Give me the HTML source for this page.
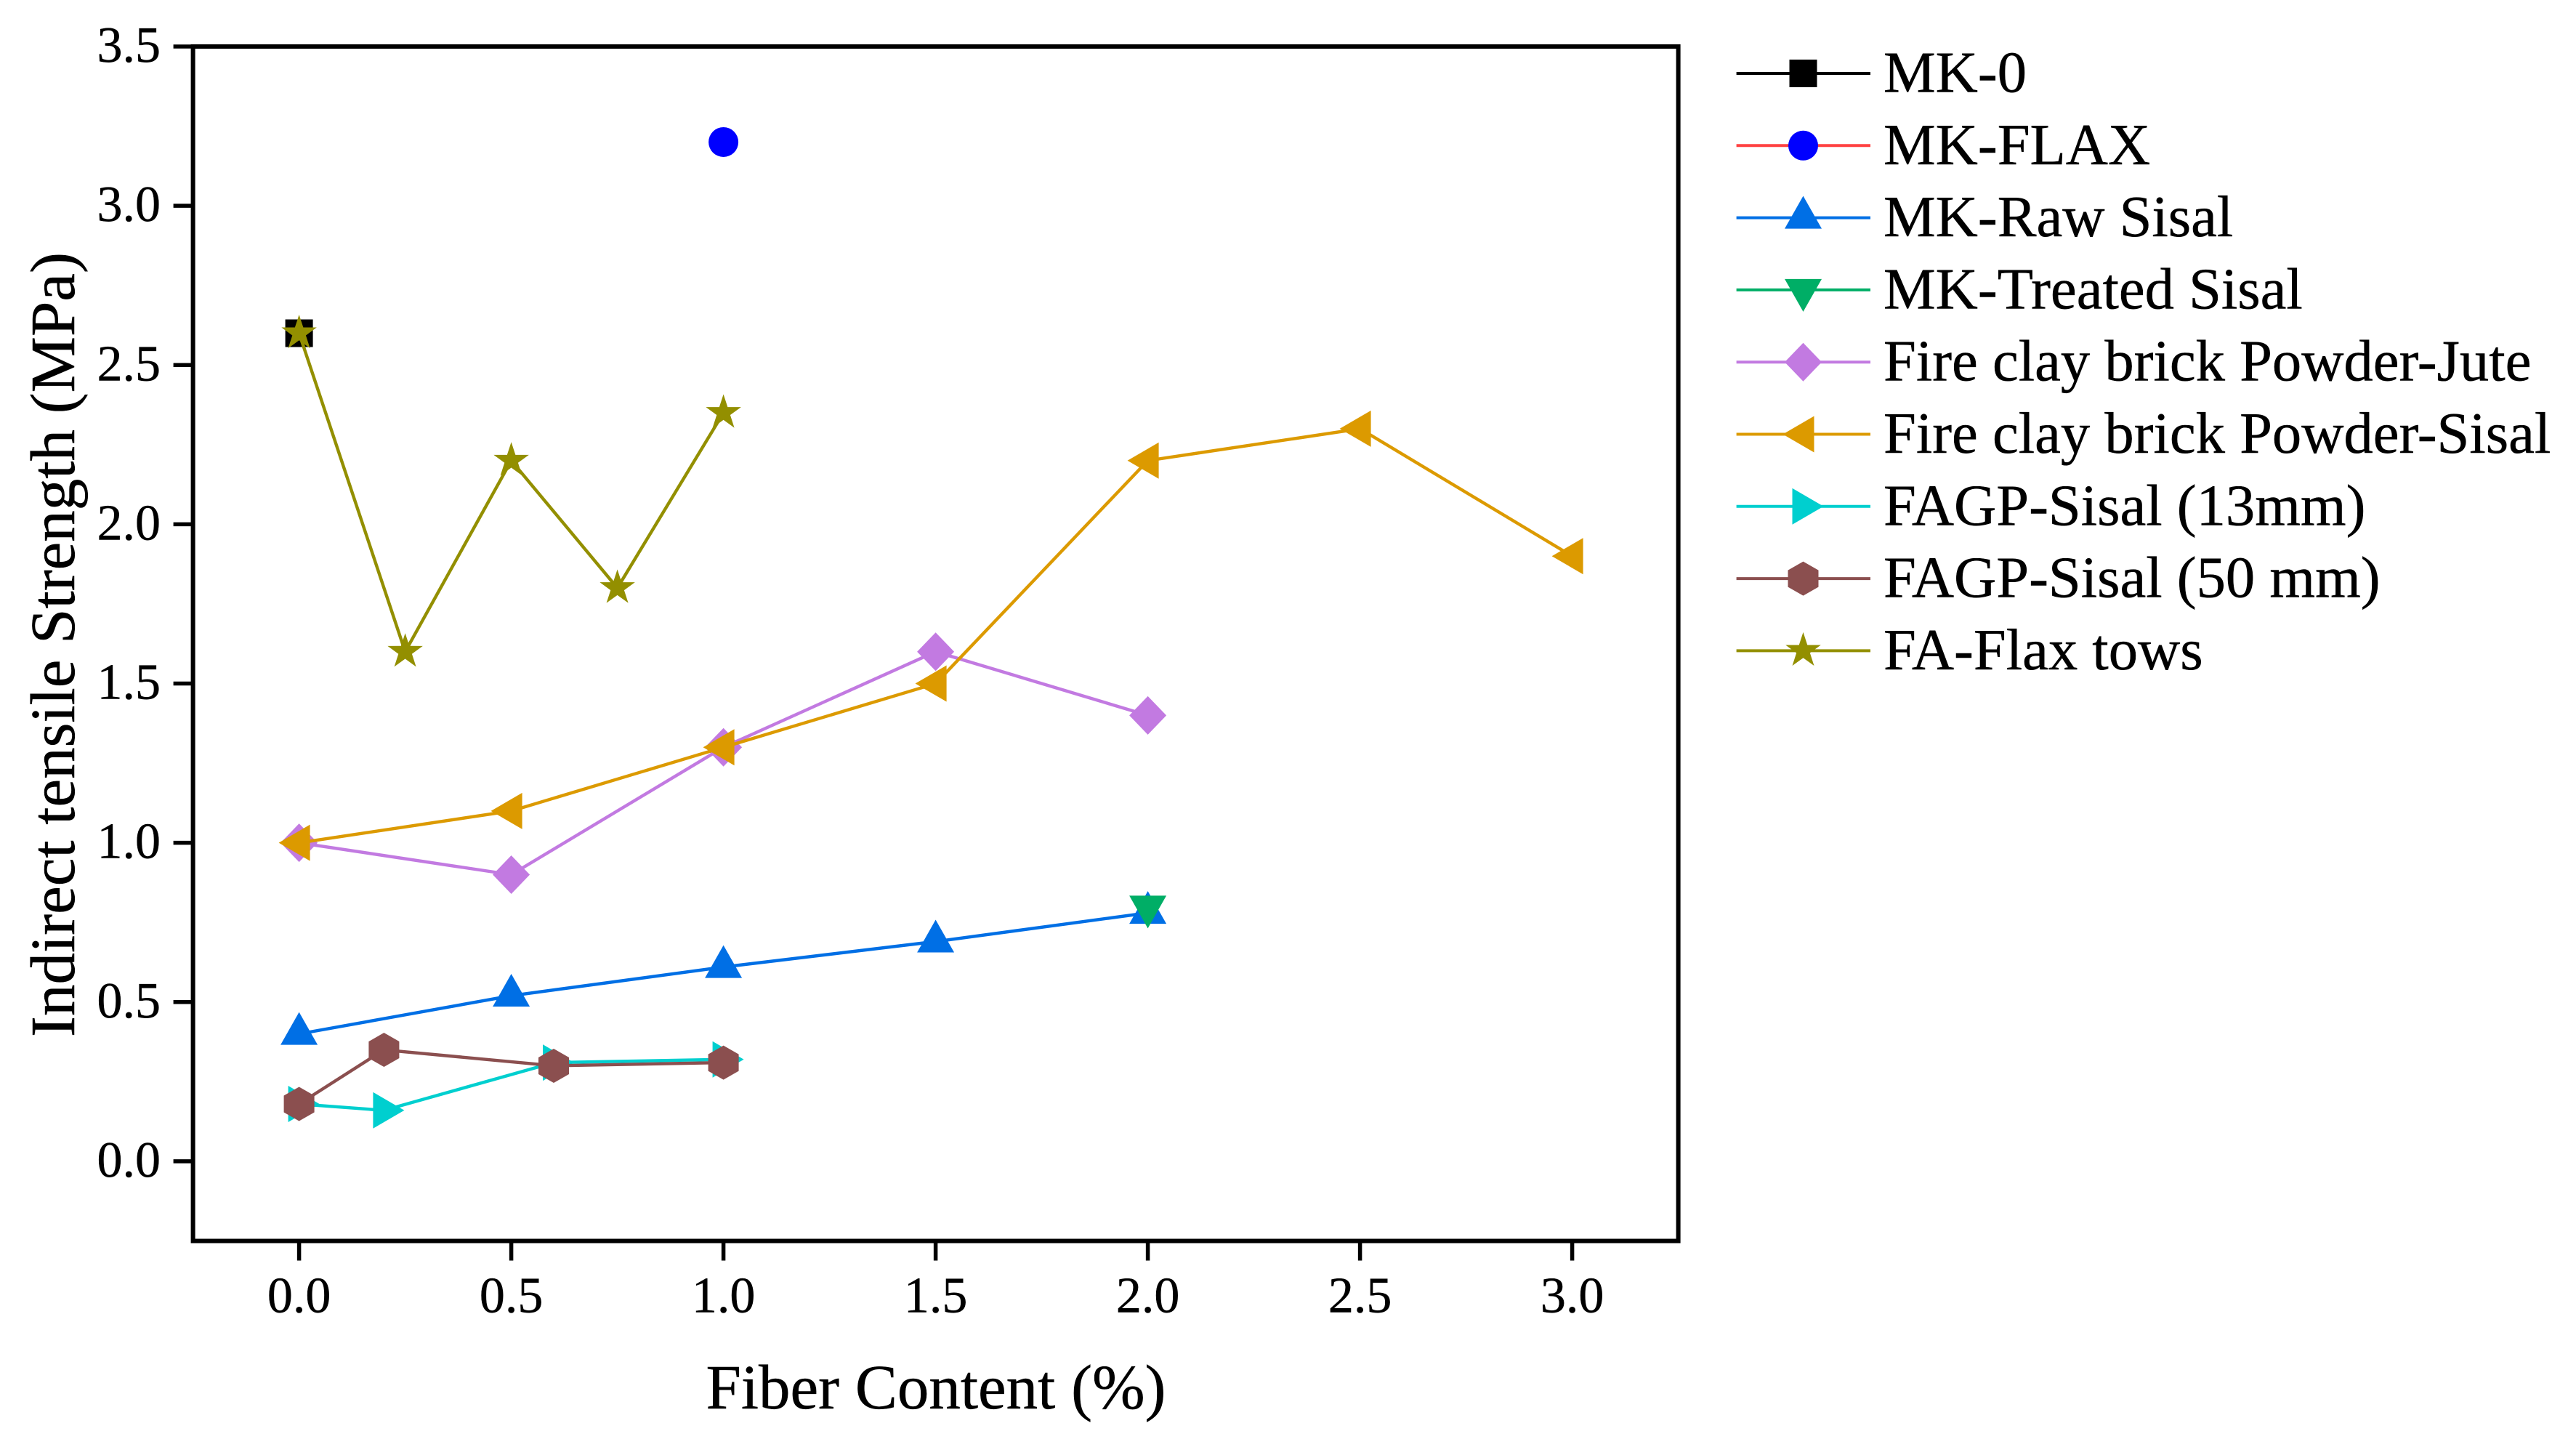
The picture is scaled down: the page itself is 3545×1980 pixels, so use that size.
<!DOCTYPE html>
<html lang="en">
<head>
<meta charset="utf-8">
<title>Indirect tensile strength vs fiber content</title>
<style>
  html, body { margin: 0; padding: 0; background: #ffffff; }
  svg { display: block; }
  text { font-family: "Liberation Serif", "Times New Roman", serif; fill: #000000; stroke: #000000; stroke-width: 0.5px; text-rendering: geometricPrecision; }
  .tick-label { font-size: 70px; }
  .axis-title { font-size: 87px; }
  .legend-label { font-size: 80.6px; }
</style>
</head>
<body>
<svg id="chart" xmlns="http://www.w3.org/2000/svg" width="3545" height="1980" viewBox="0 0 3545 1980">
  <rect x="0" y="0" width="3545" height="1980" fill="#ffffff"/>
  <g id="ticks"></g>
  <g id="series"></g>
  <rect id="frame" fill="none" stroke="#000000" stroke-width="6"/>
  <text class="axis-title" x="1288" y="1938" text-anchor="middle">Fiber Content (%)</text>
  <text class="axis-title" x="102" y="887" text-anchor="middle" transform="rotate(-90 102 887)">Indirect tensile Strength (MPa)</text>
  <g id="legend">
    <text class="legend-label" x="2592" y="126.5">MK-0</text>
    <text class="legend-label" x="2592" y="225.8">MK-FLAX</text>
    <text class="legend-label" x="2592" y="325.1">MK-Raw Sisal</text>
    <text class="legend-label" x="2592" y="424.4">MK-Treated Sisal</text>
    <text class="legend-label" x="2592" y="523.7">Fire clay brick Powder-Jute</text>
    <text class="legend-label" x="2592" y="623">Fire clay brick Powder-Sisal</text>
    <text class="legend-label" x="2592" y="722.3">FAGP-Sisal (13mm)</text>
    <text class="legend-label" x="2592" y="821.6">FAGP-Sisal (50 mm)</text>
    <text class="legend-label" x="2592" y="920.9">FA-Flax tows</text>
  </g>
</svg>
<script>
// Chart data
const xTickValues = [0, 0.5, 1, 1.5, 2, 2.5, 3];
const xTickLabels = ["0.0", "0.5", "1.0", "1.5", "2.0", "2.5", "3.0"];
const yTickValues = [0, 0.5, 1, 1.5, 2, 2.5, 3, 3.5];
const yTickLabels = ["0.0", "0.5", "1.0", "1.5", "2.0", "2.5", "3.0", "3.5"];

const mk0X = [0];
const mk0Y = [2.6];
const mkFlaxX = [1];
const mkFlaxY = [3.2];
const mkRawSisalX = [0, 0.5, 1, 1.5, 2];
const mkRawSisalY = [0.4, 0.52, 0.61, 0.69, 0.78];
const mkTreatedSisalX = [2];
const mkTreatedSisalY = [0.8];
const fireClayJuteX = [0, 0.5, 1, 1.5, 2];
const fireClayJuteY = [1, 0.9, 1.3, 1.6, 1.4];
const fireClaySisalX = [0, 0.5, 1, 1.5, 2, 2.5, 3];
const fireClaySisalY = [1, 1.1, 1.3, 1.5, 2.2, 2.3, 1.9];
const fagp13X = [0, 0.2, 0.6, 1];
const fagp13Y = [0.18, 0.16, 0.31, 0.32];
const fagp50X = [0, 0.2, 0.6, 1];
const fagp50Y = [0.18, 0.35, 0.3, 0.31];
const faFlaxX = [0, 0.25, 0.5, 0.75, 1];
const faFlaxY = [2.6, 1.6, 2.2, 1.8, 2.35];

const NS = "http://www.w3.org/2000/svg";

// Axis functions
const xDomain = [-0.25, 3.25];
const yDomain = [-0.25, 3.5];
const plotLeft = 265.6, plotRight = 2309.6, plotTop = 64, plotBottom = 1707.5;
function xScale(v) { return plotLeft + (v - xDomain[0]) / (xDomain[1] - xDomain[0]) * (plotRight - plotLeft); }
function yScale(v) { return plotBottom - (v - yDomain[0]) / (yDomain[1] - yDomain[0]) * (plotBottom - plotTop); }

function markerPoints(shape) {
  if (shape === "square") return [[-19, -19], [19, -19], [19, 19], [-19, 19]];
  if (shape === "triangle-up") return [[0, -30], [25.5, 15], [-25.5, 15]];
  if (shape === "triangle-down") return [[0, 30], [25.5, -15], [-25.5, -15]];
  if (shape === "triangle-left") return [[-28, 0], [15, -25], [15, 25]];
  if (shape === "triangle-right") return [[28, 0], [-15, -25], [-15, 25]];
  if (shape === "diamond") return [[0, -26.5], [25.5, 0], [0, 26.5], [-25.5, 0]];
  if (shape === "hexagon") return [[0, -23.5], [21, -11.5], [21, 11.5], [0, 23.5], [-21, 11.5], [-21, -11.5]];
  if (shape === "star") {
    const pts = [];
    for (let i = 0; i < 10; i++) {
      const r = i % 2 === 0 ? 25.5 : 9.8;
      const a = -Math.PI / 2 + i * Math.PI / 5;
      pts.push([r * Math.cos(a), r * Math.sin(a)]);
    }
    return pts;
  }
  return [];
}

function drawMarker(parent, shape, color, cx, cy, name) {
  let el;
  if (shape === "circle") {
    el = document.createElementNS(NS, "circle");
    el.setAttribute("cx", cx);
    el.setAttribute("cy", cy);
    el.setAttribute("r", 20.5);
  } else {
    el = document.createElementNS(NS, "polygon");
    el.setAttribute("points", markerPoints(shape).map(function (p) { return (cx + p[0]).toFixed(2) + "," + (cy + p[1]).toFixed(2); }).join(" "));
  }
  el.setAttribute("fill", color);
  
  
  parent.appendChild(el);
}

const seriesList = [
  { key: "mk-0", xs: mk0X, ys: mk0Y, line: "#000000", fill: "#000000", shape: "square" },
  { key: "mk-flax", xs: mkFlaxX, ys: mkFlaxY, line: "#ff4040", fill: "#0000ff", shape: "circle" },
  { key: "mk-raw-sisal", xs: mkRawSisalX, ys: mkRawSisalY, line: "#006fe5", fill: "#006fe5", shape: "triangle-up" },
  { key: "mk-treated-sisal", xs: mkTreatedSisalX, ys: mkTreatedSisalY, line: "#00ae66", fill: "#00ae66", shape: "triangle-down" },
  { key: "fire-clay-jute", xs: fireClayJuteX, ys: fireClayJuteY, line: "#c27ae1", fill: "#c27ae1", shape: "diamond" },
  { key: "fire-clay-sisal", xs: fireClaySisalX, ys: fireClaySisalY, line: "#dc9a00", fill: "#dc9a00", shape: "triangle-left" },
  { key: "fagp-sisal-13mm", xs: fagp13X, ys: fagp13Y, line: "#00cfcf", fill: "#00cfcf", shape: "triangle-right" },
  { key: "fagp-sisal-50mm", xs: fagp50X, ys: fagp50Y, line: "#8b4f4f", fill: "#8b4f4f", shape: "hexagon" },
  { key: "fa-flax-tows", xs: faFlaxX, ys: faFlaxY, line: "#938f00", fill: "#938f00", shape: "star" }
];

// Frame
const frame = document.getElementById("frame");
frame.setAttribute("x", plotLeft);
frame.setAttribute("y", plotTop);
frame.setAttribute("width", plotRight - plotLeft);
frame.setAttribute("height", plotBottom - plotTop);

// Ticks
const ticksGroup = document.getElementById("ticks");
xTickValues.forEach(function (v, i) {
  const px = xScale(v);
  const tick = document.createElementNS(NS, "line");
  tick.setAttribute("x1", px);
  tick.setAttribute("x2", px);
  tick.setAttribute("y1", plotBottom);
  tick.setAttribute("y2", plotBottom + 27);
  tick.setAttribute("stroke", "#000000");
  tick.setAttribute("stroke-width", "5.5");
  
  
  ticksGroup.appendChild(tick);
  const label = document.createElementNS(NS, "text");
  label.setAttribute("x", px);
  label.setAttribute("y", plotBottom + 98);
  label.setAttribute("text-anchor", "middle");
  label.setAttribute("class", "tick-label");
  
  
  label.textContent = xTickLabels[i];
  ticksGroup.appendChild(label);
});
yTickValues.forEach(function (v, i) {
  const py = yScale(v);
  const tick = document.createElementNS(NS, "line");
  tick.setAttribute("x1", plotLeft - 27);
  tick.setAttribute("x2", plotLeft);
  tick.setAttribute("y1", py);
  tick.setAttribute("y2", py);
  tick.setAttribute("stroke", "#000000");
  tick.setAttribute("stroke-width", "5.5");
  
  
  ticksGroup.appendChild(tick);
  const label = document.createElementNS(NS, "text");
  label.setAttribute("x", 221);
  label.setAttribute("y", py + 21);
  label.setAttribute("text-anchor", "end");
  label.setAttribute("class", "tick-label");
  
  
  label.textContent = yTickLabels[i];
  ticksGroup.appendChild(label);
});

// Series
const seriesGroup = document.getElementById("series");
seriesList.forEach(function (s) {
  const g = document.createElementNS(NS, "g");
  
  
  seriesGroup.appendChild(g);
  if (s.xs.length > 1) {
    const line = document.createElementNS(NS, "polyline");
    line.setAttribute("points", s.xs.map(function (x, i) { return xScale(x).toFixed(2) + "," + yScale(s.ys[i]).toFixed(2); }).join(" "));
    line.setAttribute("fill", "none");
    line.setAttribute("stroke", s.line);
    line.setAttribute("stroke-width", "4.4");
    line.setAttribute("stroke-linejoin", "round");
    
    
    g.appendChild(line);
  }
  s.xs.forEach(function (x, i) {
    drawMarker(g, s.shape, s.fill, xScale(x), yScale(s.ys[i]), 'point-' + s.key);
  });
});

// Legend swatches
const legendGroup = document.getElementById("legend");
seriesList.forEach(function (s, i) {
  const rowY = 101 + i * 99.3;
  const line = document.createElementNS(NS, "line");
  line.setAttribute("x1", 2389.6);
  line.setAttribute("x2", 2574);
  line.setAttribute("y1", rowY);
  line.setAttribute("y2", rowY);
  line.setAttribute("stroke", s.line);
  line.setAttribute("stroke-width", "4");
  
  
  legendGroup.appendChild(line);
  drawMarker(legendGroup, s.shape, s.fill, 2481.5, rowY, 'legend-marker-' + s.key);
});
</script>
</body>
</html>
